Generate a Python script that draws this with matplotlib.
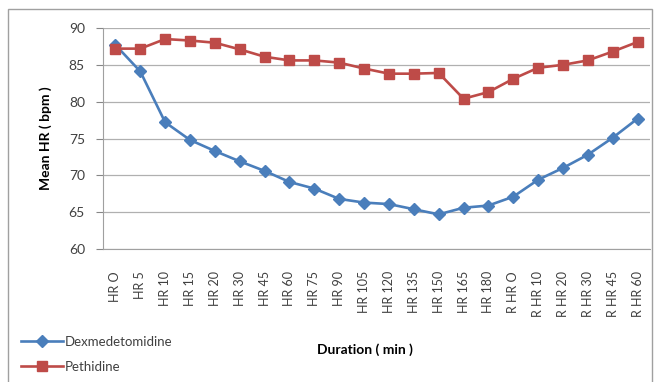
import matplotlib.pyplot as plt
from matplotlib.patches import Rectangle

plt.rcParams['font.family'] = ['Lato', 'DejaVu Sans']

# categories on the x axis
durations = ['HR O', 'HR 5', 'HR 10', 'HR 15', 'HR 20', 'HR 30', 'HR 45', 'HR 60',
             'HR 75', 'HR 90', 'HR 105', 'HR 120', 'HR 135', 'HR 150', 'HR 165',
             'HR 180', 'R HR O', 'R HR 10', 'R HR 20', 'R HR 30', 'R HR 45', 'R HR 60']

# mean heart rate (bpm)
dexmedetomidine = [87.7, 84.1, 77.2, 74.8, 73.3, 71.9, 70.6, 69.1, 68.2, 66.8, 66.3,
                   66.1, 65.4, 64.7, 65.6, 65.9, 67.1, 69.4, 71.0, 72.8, 75.1, 77.7]
pethidine = [87.2, 87.2, 88.5, 88.3, 88.0, 87.1, 86.1, 85.6, 85.6, 85.3, 84.5,
             83.8, 83.8, 83.9, 80.4, 81.3, 83.1, 84.6, 85.0, 85.6, 86.8, 88.1]

fig = plt.figure(figsize=(6.62, 3.82), dpi=100)
ax = fig.add_axes([103/662, 1-249/382, 547/662, 221/382])

x = range(len(durations))
ax.plot(x, dexmedetomidine, color='#4A7EBB', lw=1.9, marker='D', ms=6,
        mec='#4A7EBB', label='Dexmedetomidine', zorder=3)
ax.plot(x, pethidine, color='#BE4B48', lw=1.9, marker='s', ms=7.5,
        mec='#BE4B48', label='Pethidine', zorder=3)

ax.set_xlim(-0.5, len(durations) - 0.5)
ax.set_ylim(60, 90)
ax.set_yticks(range(60, 91, 5))
ax.set_xticks(list(x))
ax.set_xticklabels(durations, rotation=90, fontsize=9, color='#404040')
ax.tick_params(axis='x', length=0, pad=16)
ax.tick_params(axis='y', length=5, color='#868686', labelsize=10, pad=8,
               labelcolor='#404040')
ax.grid(axis='y', color='#b0b0b0', lw=0.9)
ax.set_axisbelow(True)
for s in ['top', 'right']:
    ax.spines[s].set_visible(False)
for s in ['left', 'bottom']:
    ax.spines[s].set_color('#a0a0a0')

ax.set_ylabel('Mean HR ( bpm )', fontsize=10, fontweight='bold', labelpad=12)
fig.text(365/662, 1-350/382, 'Duration ( min )', fontsize=10, fontweight='bold',
         ha='center', va='center')

fig.legend(loc='upper left', bbox_to_anchor=(9/662, 1-324/382), frameon=False,
           fontsize=9.5, handlelength=3.2, handletextpad=0.1, labelspacing=1.0,
           labelcolor='#404040')

# outer chart border
fig.patches.append(Rectangle((8/662, -0.1), 644/662, 1.1-9/382, transform=fig.transFigure,
                             fill=False, ec='#a0a0a0', lw=1))

fig.savefig('out.png', dpi=100)
